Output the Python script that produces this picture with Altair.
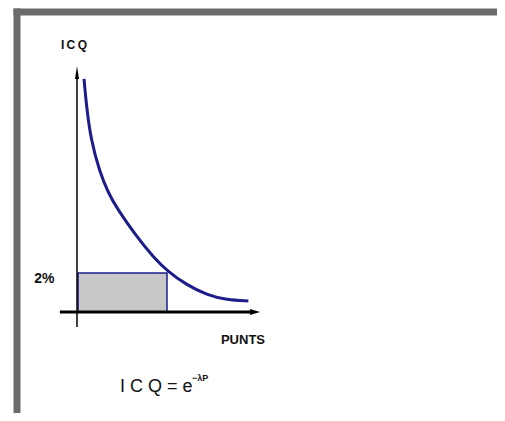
import altair as alt
import pandas as pd

# ---- data ----
curve_x = [0.39, 0.52, 0.76, 1.26, 1.74, 2.21, 3.32, 4.24, 5.07, 6.09, 7.21, 8.32, 9.52]
curve_y = [9.71, 8.63, 7.21, 5.83, 4.96, 4.33, 3.13, 2.29, 1.67, 1.13, 0.71, 0.50, 0.46]

rect_x = [0.06]
rect_x2 = [5.0]
rect_y = [0.0]
rect_y2 = [1.625]

axis_x_start = [-0.95]
axis_x_end = [9.72]
axis_y_start = [-0.63]
axis_y_end = [9.85]
arrow_x = [9.89]   # tip of horizontal axis
arrow_y = [9.98]   # tip of vertical axis

label_text = ["I\u2009C\u2009Q", "2%", "PUNTS"]
label_x = [-0.17, -1.81, 9.22]
label_y = [11.13, 1.375, -1.17]
label_size = [12, 14, 13]

formula_main = ["I C Q = e"]
formula_sup = ["\u2212\u03bbP"]
formula_x = [2.39]
formula_y = [-3.13]
sup_x = [6.39]
sup_y = [-2.77]

# ---- tables ----
curve_df = pd.DataFrame({"x": curve_x, "y": curve_y})
rect_df = pd.DataFrame({"x": rect_x, "x2": rect_x2, "y": rect_y, "y2": rect_y2})
hax_df = pd.DataFrame({"x": axis_x_start, "x2": axis_x_end, "y": [0.0]})
vax_df = pd.DataFrame({"x": [0.0], "y": axis_y_start, "y2": axis_y_end})
harrow_df = pd.DataFrame({"x": arrow_x, "y": [0.0]})
varrow_df = pd.DataFrame({"x": [0.0], "y": arrow_y})
lab_df = pd.DataFrame({"x": label_x, "y": label_y, "t": label_text, "s": label_size})
f_df = pd.DataFrame({"x": formula_x, "y": formula_y, "t": formula_main})
s_df = pd.DataFrame({"x": sup_x, "y": sup_y, "t": formula_sup})

W, H = 484, 405
xscale = alt.Scale(domain=[-64 / 18, (W - 64) / 18], nice=False, zero=False)
yscale = alt.Scale(domain=[(304 - H) / 24, 304 / 24], nice=False, zero=False)

FRAME = "#6b6b6b"
top_axis = alt.Axis(orient="top", domain=True, domainColor=FRAME, domainWidth=7,
                    ticks=False, labels=False, title=None, grid=False, offset=-3.5)
left_axis = alt.Axis(orient="left", domain=True, domainColor=FRAME, domainWidth=7,
                     ticks=False, labels=False, title=None, grid=False, offset=-3.5)


def X(field="x"):
    return alt.X(f"{field}:Q", scale=xscale, axis=top_axis)


def Y(field="y"):
    return alt.Y(f"{field}:Q", scale=yscale, axis=left_axis)


NAVY = "#1c1c8a"
FONT = "Liberation Sans Narrow, Liberation Sans, Arial, sans-serif"

rect = alt.Chart(rect_df).mark_rect(fill="#c8c8c8", stroke=NAVY, strokeWidth=1.5).encode(
    x=X(), x2="x2:Q", y=Y(), y2="y2:Q")

curve = alt.Chart(curve_df).mark_line(color=NAVY, strokeWidth=3, interpolate="basis").encode(
    x=X(), y=Y())

hax = alt.Chart(hax_df).mark_rule(color="black", strokeWidth=3).encode(x=X(), x2="x2:Q", y=Y())
vax = alt.Chart(vax_df).mark_rule(color="black", strokeWidth=1.5).encode(x=X(), y=Y(), y2="y2:Q")

harrow = alt.Chart(harrow_df).mark_point(
    shape="M0.83,0L-0.83,-0.5L-0.83,0.5Z", filled=True, color="black", size=144, opacity=1
).encode(x=X(), y=Y())
varrow = alt.Chart(varrow_df).mark_point(
    shape="M0,-1L-0.31,1L0.31,1Z", filled=True, color="black", size=169, opacity=1
).encode(x=X(), y=Y())

labels = alt.Chart(lab_df).mark_text(
    font=FONT, fontWeight="bold", color="#111111", baseline="middle", align="center"
).encode(x=X(), y=Y(), text="t:N",
         size=alt.Size("s:Q", scale=None, legend=None))

formula = alt.Chart(f_df).mark_text(
    font=FONT, fontSize=18, color="#111111", align="left", baseline="middle"
).encode(x=X(), y=Y(), text="t:N")

sup = alt.Chart(s_df).mark_text(
    font=FONT, fontWeight="bold", fontSize=9, color="#111111", align="left", baseline="middle"
).encode(x=X(), y=Y(), text="t:N")

chart = alt.layer(rect, curve, hax, vax, harrow, varrow, labels, formula, sup).properties(
    width=W, height=H,
    autosize=alt.AutoSizeParams(type="none"),
    padding={"left": 5, "top": 0, "right": 0, "bottom": 0},
    background="white",
).configure_view(stroke=None)

chart.save("out.html", embed_options={"renderer": "svg", "actions": False})
